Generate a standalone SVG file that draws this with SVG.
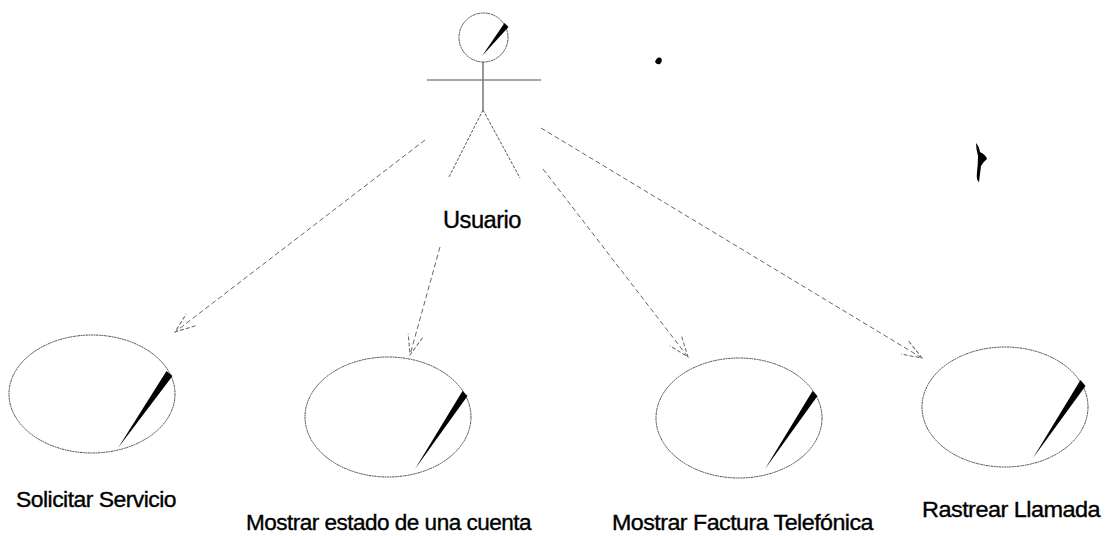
<svg xmlns="http://www.w3.org/2000/svg" width="1106" height="536" viewBox="0 0 1106 536">
<style>
.uc{fill:none;stroke:#4a4a4a;stroke-width:1;stroke-dasharray:2 0.6}
.slash{fill:#000}
.conn{fill:none;stroke:#666;stroke-width:1;stroke-dasharray:5 3}
.lbl{font-family:"Liberation Sans",Arial,sans-serif;font-size:22px;fill:#000;stroke:#000;stroke-width:0.35px;letter-spacing:-0.5px}
.ah{fill:none;stroke:#666;stroke-width:1;stroke-dasharray:4 2}
</style>
<defs>
<marker id="open" markerUnits="userSpaceOnUse" viewBox="-1 -9 23 18" refX="20" refY="0" markerWidth="23" markerHeight="18" orient="auto">
<path class="ah" d="M0,-7.5 L20,0 L0,7.5"/>
</marker>
</defs>
<rect width="1106" height="536" fill="#fff"/>
<g id="actor-usuario">
<circle cx="483.5" cy="37.5" r="24.5" class="uc" stroke="#777"/>
<polygon class="slash" points="482,56 504.5,23 508.5,27"/>
<line x1="483" y1="62" x2="483" y2="110" stroke="#333" stroke-width="1"/>
<line x1="427" y1="80" x2="541" y2="80" stroke="#888" stroke-width="1.3"/>
<line x1="483" y1="110" x2="449" y2="177" stroke="#555" stroke-width="1" stroke-dasharray="3 1.5"/>
<line x1="483" y1="110" x2="520" y2="178" stroke="#555" stroke-width="1" stroke-dasharray="3 1.5"/>
<text class="lbl" x="443" y="228" textLength="78" lengthAdjust="spacingAndGlyphs" style="font-size:23px">Usuario</text>
</g>
<g id="uc-solicitar">
<ellipse cx="92" cy="394" rx="83" ry="59" class="uc"/>
<polygon class="slash" points="118,448 166.5,371 172.5,376"/>
<text class="lbl" x="16" y="507" textLength="160" lengthAdjust="spacingAndGlyphs">Solicitar Servicio</text>
</g>
<g id="uc-estado">
<ellipse cx="388" cy="417" rx="83" ry="60" class="uc"/>
<polygon class="slash" points="415,469 462.5,391 467.5,396"/>
<text class="lbl" x="246" y="530" textLength="285" lengthAdjust="spacingAndGlyphs">Mostrar estado de una cuenta</text>
</g>
<g id="uc-factura">
<ellipse cx="739" cy="418" rx="83" ry="60" class="uc"/>
<polygon class="slash" points="765,469 812.5,391 817.5,396"/>
<text class="lbl" x="612" y="530" textLength="261" lengthAdjust="spacingAndGlyphs">Mostrar Factura Telefónica</text>
</g>
<g id="uc-rastrear">
<ellipse cx="1005" cy="407" rx="83" ry="60" class="uc"/>
<polygon class="slash" points="1033,458 1080.5,380 1085.5,386"/>
<text class="lbl" x="922" y="517" textLength="178" lengthAdjust="spacingAndGlyphs">Rastrear Llamada</text>
</g>
<g id="connectors">
<line class="conn" x1="425" y1="140" x2="175" y2="332" marker-end="url(#open)"/>
<line class="conn" x1="440" y1="247" x2="410" y2="355" marker-end="url(#open)"/>
<line class="conn" x1="543" y1="169" x2="688" y2="357" marker-end="url(#open)"/>
<line class="conn" x1="541" y1="128" x2="922" y2="358" marker-end="url(#open)"/>
</g>
<g id="specks" fill="#000">
<path d="M655,62 Q657,56 661,58 Q663,61 660,64 Q657,65 655,62 Z"/>
<path d="M976,143 Q979,146 980,152 Q986,155 987,159 Q983,162 981,166 Q980,174 979,182 Q976,180 977,172 Q978,164 978,156 Q976,149 976,143 Z"/>
</g>
</svg>
